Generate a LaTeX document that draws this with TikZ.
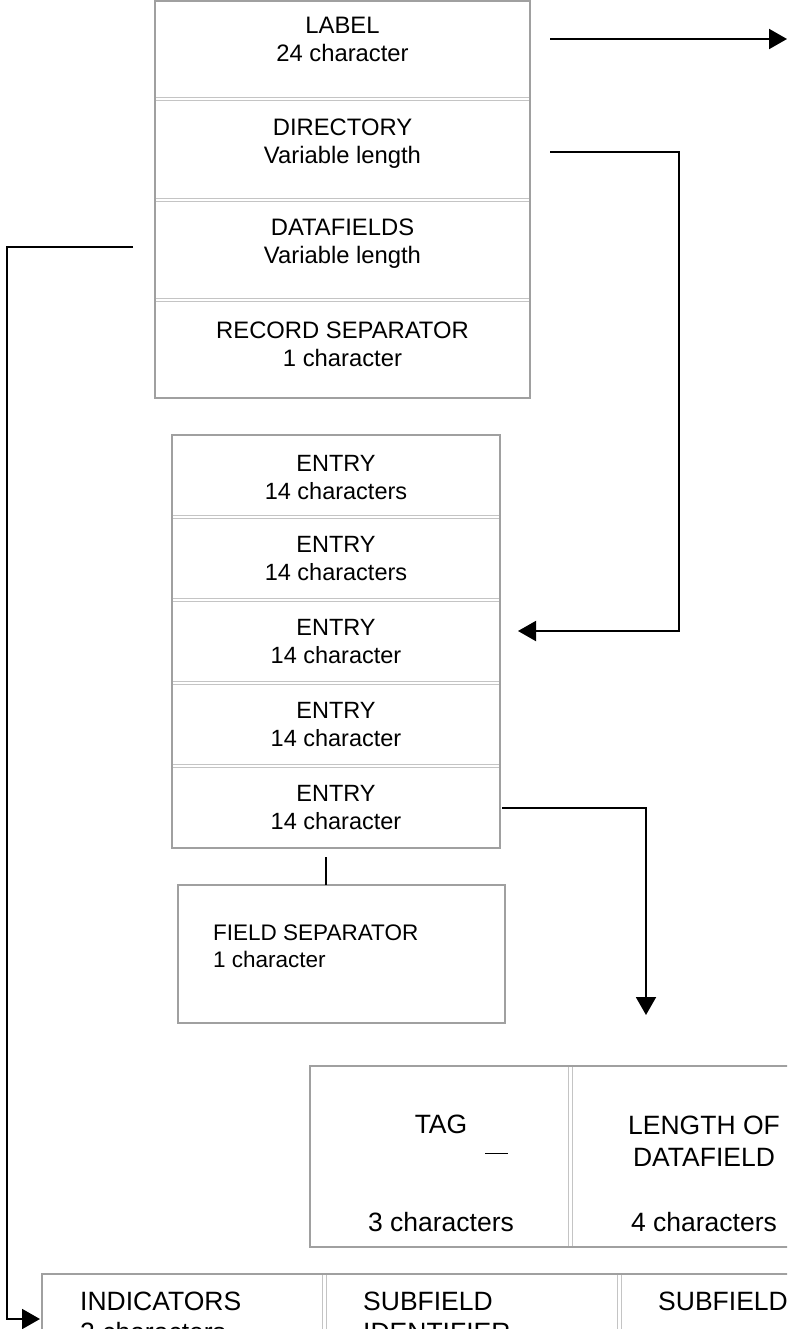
\documentclass[tikz,border=0pt]{standalone}
\usepackage{fontspec}
\setmainfont{Liberation Sans}
\usetikzlibrary{arrows.meta}
\definecolor{boxgray}{HTML}{A0A0A0}
\definecolor{divgray}{HTML}{C4C4C4}
\begin{document}
\begin{tikzpicture}[x=1pt,y=-1pt,
  frame/.style={draw=boxgray, line width=2pt, inner sep=0pt, outer sep=0pt, anchor=north west},
  dbl/.style={draw=divgray, double=white, double distance=2.6pt, line width=1.1pt},
  conn/.style={draw=black, line width=2pt},
  arr/.style={conn, -{Triangle[length=18pt,width=20pt]}},
  toptxt/.style={align=center, font=\fontsize{23.8}{28}\selectfont, inner sep=0pt},
  entxt/.style={align=center, font=\fontsize{23.5}{28}\selectfont, inner sep=0pt},
  fstxt/.style={align=left, font=\fontsize{22.5}{27}\selectfont, inner sep=0pt, anchor=west},
  tagtxt/.style={align=center, font=\fontsize{26.5}{32}\selectfont, inner sep=0pt},
  bottxt/.style={font=\fontsize{26.5}{31}\selectfont, inner sep=0pt, anchor=base west}
]
\useasboundingbox (0,0) rectangle (787,1329);
\clip (0,0) rectangle (787,1329);

% dividers (double lines)
\draw[dbl] (155,99) -- (530,99);
\draw[dbl] (155,200) -- (530,200);
\draw[dbl] (155,300) -- (530,300);
\draw[dbl] (172,517) -- (500,517);
\draw[dbl] (172,600) -- (500,600);
\draw[dbl] (172,683) -- (500,683);
\draw[dbl] (172,766) -- (500,766);
\draw[dbl] (570.5,1066) -- (570.5,1247);
\draw[dbl] (324.5,1274) -- (324.5,1400);
\draw[dbl] (619.5,1274) -- (619.5,1400);

% frames
\node[frame, minimum width=375, minimum height=397] (record) at (155,1) {};
\node[frame, minimum width=328, minimum height=413] (entries) at (172,435) {};
\node[frame, minimum width=327, minimum height=138] (fieldsep) at (178,885) {};
\node[frame, minimum width=530, minimum height=181] (tagbox) at (310,1066) {};
\node[frame, minimum width=900, minimum height=130] (fieldbox) at (42,1274) {};

% record texts
\node[toptxt] (label) at (342.5,42) {\strut LABEL\\\strut 24 character};
\node[toptxt] (directory) at (342.5,144) {\strut DIRECTORY\\\strut Variable length};
\node[toptxt] (datafields) at (342.5,244) {\strut DATAFIELDS\\\strut Variable length};
\node[toptxt] (recsep) at (342.5,347) {\strut RECORD SEPARATOR\\\strut 1 character};

% entries
\node[entxt] (e1) at (336,480) {\strut ENTRY\\\strut 14 characters};
\node[entxt] (e2) at (336,561) {\strut ENTRY\\\strut 14 characters};
\node[entxt] (e3) at (336,644) {\strut ENTRY\\\strut 14 character};
\node[entxt] (e4) at (336,727) {\strut ENTRY\\\strut 14 character};
\node[entxt] (e5) at (336,810) {\strut ENTRY\\\strut 14 character};

% field separator
\node[fstxt] (fstext) at (213,949) {\strut FIELD SEPARATOR\\\strut 1 character};

% tag box
\node[tagtxt, anchor=base] (tag) at (441,1133.5) {TAG};
\node[tagtxt, anchor=base] (tagchars) at (441,1231.5) {3 characters};
\node[tagtxt] (lenof) at (704,1143.6) {\strut LENGTH OF\\\strut DATAFIELD};
\node[tagtxt, anchor=base] (lenchars) at (704,1231.5) {4 characters};
\draw[line width=1pt] (485,1153) -- (508,1153);

% bottom field box
\node[bottxt] (ind) at (80,1310) {INDICATORS};
\node[bottxt] (indchars) at (80,1341) {2 characters};
\node[bottxt] (sub1) at (363,1310) {SUBFIELD};
\node[bottxt] (sub1b) at (363,1341) {IDENTIFIER};
\node[bottxt] (sub2) at (658,1310) {SUBFIELD};

% connectors
\coordinate (labelOut) at (550,39);
\coordinate (labelEnd) at (787,39);
\draw[arr] (labelOut) -- (labelEnd);

\coordinate (dirOut) at (550,152);
\coordinate (dirIn) at (518,631);
\draw[arr] (dirOut) -- ++(129,0) |- (dirIn);

\coordinate (dfOut) at (133,247);
\coordinate (dfIn) at (40,1319);
\draw[arr] (dfOut) -- ++(-126,0) |- (dfIn);

\coordinate (e5Out) at (502,808);
\coordinate (tagIn) at (646,1015);
\draw[arr] (e5Out) -| (tagIn);

\coordinate (e5Stub) at (326,857);
\draw[conn] (e5Stub) -- (e5Stub |- fieldsep.north);
\end{tikzpicture}
\end{document}
